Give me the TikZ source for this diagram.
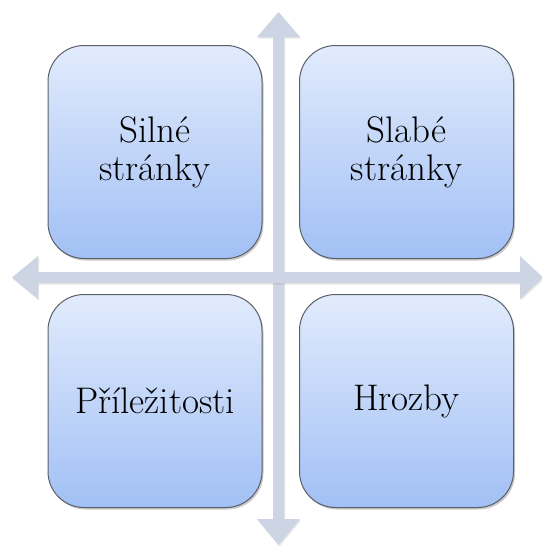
\documentclass[tikz,border=0pt]{standalone}
\usetikzlibrary{shadows}
\definecolor{boxtop}{HTML}{E1EBFC}
\definecolor{boxbot}{HTML}{A2C0F5}
\definecolor{axis}{HTML}{CDD5E4}
\definecolor{edge}{HTML}{5A5F68}
\begin{document}
\begin{tikzpicture}[x=1pt,y=-1pt,
  quad/.style={rounded corners=36pt, draw=edge, line width=1pt,
    top color=boxtop, bottom color=boxbot,
    minimum width=214pt, minimum height=213pt, inner sep=0pt,
    align=center, font=\rmfamily\fontsize{37}{38}\selectfont,
    drop shadow={shadow xshift=1.5pt, shadow yshift=-2pt, opacity=0.35, fill=black!60}},
  axisfill/.style={fill=axis, draw=none,
    drop shadow={shadow xshift=1pt, shadow yshift=-1.5pt, opacity=0.2, fill=black!50}}]
\useasboundingbox (0,0) rectangle (541,546);
% vertical axis
\path[axisfill] (273,37) -- (257,37) -- (278.5,12) -- (300,37) -- (284,37)
  -- (284,519) -- (300,519) -- (278.5,545) -- (257,519) -- (273,519) -- cycle;
% horizontal axis
\path[axisfill] (38,272) -- (38,256) -- (12,277.5) -- (38,299) -- (38,283)
  -- (520,283) -- (520,299) -- (543,277.5) -- (520,256) -- (520,272) -- cycle;
\node[quad] (s) at (155,152) {Silné\\stránky};
\node[quad] (w) at (406.5,152) {Slabé\\stránky};
\node[quad] (o) at (155,401) {Příležitosti};
\node[quad] (t) at (406.5,401) {Hrozby};
\end{tikzpicture}
\end{document}
